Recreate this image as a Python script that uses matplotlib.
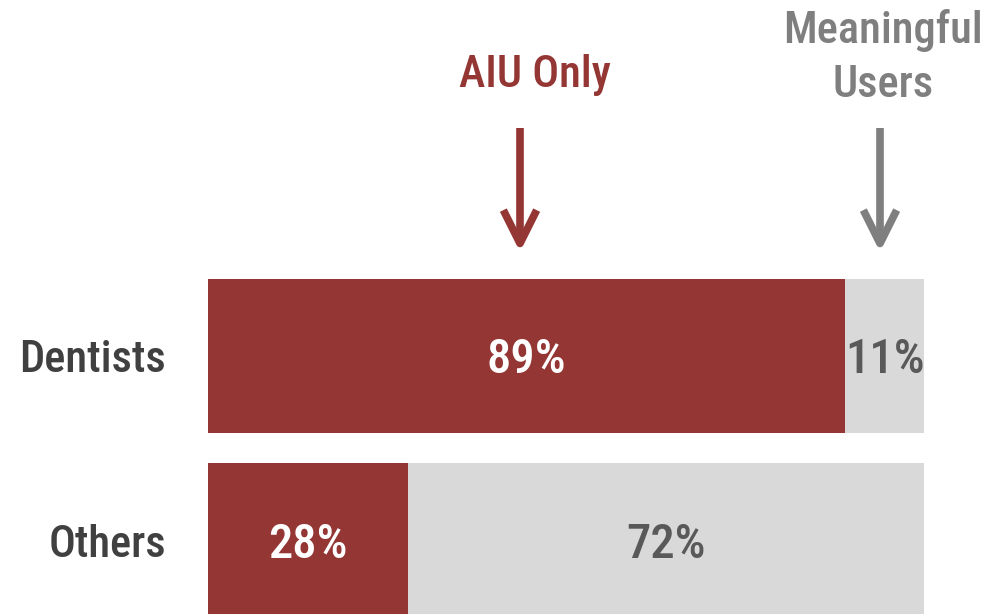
import matplotlib
matplotlib.use('Agg')
import matplotlib.pyplot as plt
from matplotlib.patches import FancyArrowPatch

categories = ['Others', 'Dentists']
aiu_only = [28, 89]
meaningful = [72, 11]

RED = '#943634'
LIGHT = '#D9D9D9'
plt.rcParams['font.family'] = [
    'Roboto Condensed', 'Archivo Narrow', 'PT Sans Narrow',
    'Sofia Sans Condensed', 'DejaVu Sans']
plt.rcParams['font.weight'] = 'medium'

W, H = 988, 614
fig = plt.figure(figsize=(W / 100, H / 100), dpi=100)
ax = fig.add_axes([208 / W, 0, 716 / W, (H - 279) / H])

bar_h = 154 / 184
ypos = list(range(len(categories)))
ax.barh(ypos, aiu_only, height=bar_h, color=RED)
ax.barh(ypos, meaningful, left=aiu_only, height=bar_h, color=LIGHT)
top = ypos[-1] + bar_h / 2
ax.set_xlim(0, 100)
ax.set_ylim(top - (H - 279) / 184, top)
ax.axis('off')

for y, cat, a, m in zip(ypos, categories, aiu_only, meaningful):
  nudge = -4 if y else -5
  ax.annotate(f'{a}%', xy=(a / 2, y), xytext=(0, nudge),
              textcoords='offset pixels', ha='center', va='center',
              color='white', fontsize=35)
  ax.annotate(f'{m}%', xy=(a + m / 2, y), xytext=(0, nudge),
              textcoords='offset pixels', ha='center', va='center',
              color='#595959', fontsize=35)
  ax.annotate(cat, xy=(0, y), xytext=(-42, nudge),
              textcoords='offset pixels', ha='right', va='center',
              color='#404040', fontsize=32)

fig.text(535 / W, 1 - 87 / H, 'AIU Only', ha='center', va='baseline',
         color=RED, fontsize=32)
fig.text(883 / W, 1 - 43 / H, 'Meaningful', ha='center', va='baseline',
         color='#7F7F7F', fontsize=32)
fig.text(883 / W, 1 - 97 / H, 'Users', ha='center', va='baseline',
         color='#7F7F7F', fontsize=32)

for x, color in ((520, RED), (880, '#7F7F7F')):
  fig.add_artist(FancyArrowPatch(
      (x / W, 1 - 128 / H), (x / W, 1 - 252 / H),
      transform=fig.transFigure,
      arrowstyle='->,head_length=24,head_width=12',
      mutation_scale=1, color=color, linewidth=5.5,
      capstyle='butt', joinstyle='round', shrinkA=0, shrinkB=0))

fig.savefig('out.png', dpi=100)
